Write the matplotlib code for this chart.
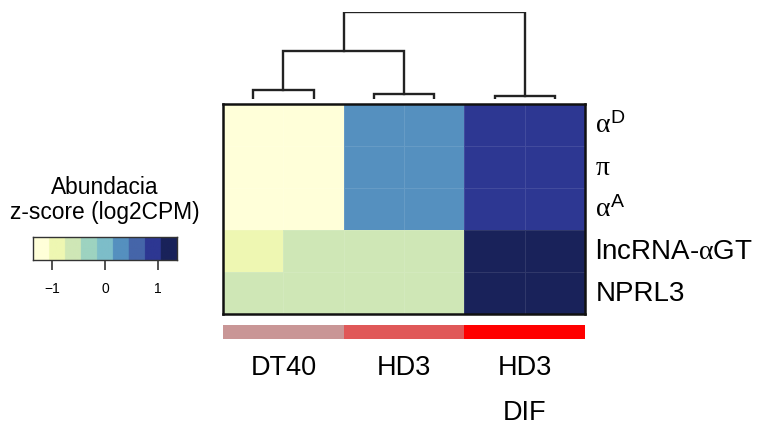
import numpy as np
import matplotlib
matplotlib.use('Agg')
from matplotlib import pyplot as plt
from matplotlib import font_manager
from matplotlib.colors import ListedColormap, BoundaryNorm

# --- data -------------------------------------------------------------
genes = [r'$\alpha^{\mathrm{D}}$', r'$\pi$', r'$\alpha^{\mathrm{A}}$',
         r'lncRNA-$\alpha$GT', 'NPRL3']
groups = ['DT40', 'HD3', 'HD3\nDIF']
group_colors = ['#C99696', '#E05858', '#FF0000']
samples_per_group = 2

# z-score (log2CPM), rows = genes, cols = samples
z_alphaD = [-1.2, -1.2, 0.25, 0.25, 0.95, 0.95]
z_pi     = [-1.2, -1.2, 0.25, 0.25, 0.95, 0.95]
z_alphaA = [-1.2, -1.2, 0.25, 0.25, 0.95, 0.95]
z_lnc    = [-0.9, -0.57, -0.57, -0.57, 1.3, 1.3]
z_nprl3  = [-0.6, -0.6, -0.6, -0.6, 1.2, 1.2]

# column dendrogram: (left node, right node, height), leaves 0..5
linkage = [(0, 1, 0.10),
           (2, 3, 0.06),
           (4, 5, 0.035),
           (6, 7, 0.55),
           (8, 9, 1.0)]

pal = ['#FFFFD9', '#EEF7B2', '#CFE7B6', '#9DD3C0', '#7DBDC9',
       '#5590BF', '#4565A9', '#2D3792', '#19225A']
zlim = 1.36
legend_ticks = [-1, 0, 1]

# --- fonts ------------------------------------------------------------
names = {f.name for f in font_manager.fontManager.ttflist}
fam = 'Liberation Sans Narrow' if 'Liberation Sans Narrow' in names else 'Liberation Sans'
plt.rcParams['font.family'] = [fam, 'DejaVu Sans']
plt.rcParams['mathtext.fontset'] = 'custom'
plt.rcParams['mathtext.rm'] = fam
plt.rcParams['mathtext.it'] = 'Liberation Serif'

W, H = 772, 427
def box(x0, y0, x1, y1):
    # pixel box (top-left origin) -> figure fraction rect
    return [x0 / W, 1 - y1 / H, (x1 - x0) / W, (y1 - y0) / H]

fig = plt.figure(figsize=(W / 100, H / 100), dpi=100)

mat = np.array([z_alphaD, z_pi, z_alphaA, z_lnc, z_nprl3])
cmap = ListedColormap(pal)
norm = BoundaryNorm(np.linspace(-zlim, zlim, len(pal) + 1), cmap.N)

# --- heatmap ----------------------------------------------------------
ax = fig.add_axes(box(223, 105, 585, 315))
ax.pcolormesh(mat, cmap=cmap, norm=norm, edgecolors=(1, 1, 1, 0.10), linewidth=0.5)
ax.set_xlim(0, mat.shape[1])
ax.set_ylim(mat.shape[0], 0)
ax.set_xticks([])
ax.set_yticks([])
for s in ax.spines.values():
    s.set_linewidth(1.8)
    s.set_color('#111111')
for i, g in enumerate(genes):
    ax.text(mat.shape[1] + 0.17, i + 0.5, g, fontsize=20, ha='left', va='center')

# --- dendrogram -------------------------------------------------------
dax = fig.add_axes(box(223, 13, 585, 100))
pos = {i: (i + 0.5, 0.0) for i in range(mat.shape[1])}
nid = mat.shape[1]
for a, b, h in linkage:
    xa, ya = pos[a]
    xb, yb = pos[b]
    dax.plot([xa, xa, xb, xb], [ya, h, h, yb], color='#222222', lw=1.7,
             solid_joinstyle='miter')
    pos[nid] = ((xa + xb) / 2, h)
    nid += 1
dax.set_xlim(0, mat.shape[1])
dax.set_ylim(0, 1.0)
dax.axis('off')

# --- column annotation ------------------------------------------------
aax = fig.add_axes(box(223, 326, 585, 340))
for k, (g, c) in enumerate(zip(groups, group_colors)):
    x0 = k * samples_per_group
    aax.axvspan(x0, x0 + samples_per_group, color=c, lw=0)
    aax.text(x0 + samples_per_group / 2, -1.05, g, fontsize=19.5, ha='center',
             va='top', linespacing=1.95, transform=aax.get_xaxis_transform())
aax.set_xlim(0, mat.shape[1])
aax.set_ylim(0, 1)
aax.axis('off')

# --- colour key -------------------------------------------------------
lax = fig.add_axes(box(33, 238, 177, 261))
lax.imshow(np.linspace(-zlim, zlim, 400)[None, :], aspect='auto', cmap=cmap,
           norm=norm, extent=[-zlim, zlim, 0, 1])
lax.set_xlim(-zlim, zlim)
lax.set_yticks([])
lax.set_xticks(legend_ticks)
lax.set_xticklabels(['\u22121', '0', '1'], fontsize=10)
lax.tick_params(axis='x', length=7, width=1.2, color='#333333', pad=8)
for s in lax.spines.values():
    s.set_linewidth(1.0)
    s.set_color('#333333')
fig.text(105 / W, 1 - 176 / H, 'Abundacia\nz-score (log2CPM)', fontsize=16.4,
         ha='center', va='top', linespacing=1.12)

fig.savefig('out.png', dpi=100)
